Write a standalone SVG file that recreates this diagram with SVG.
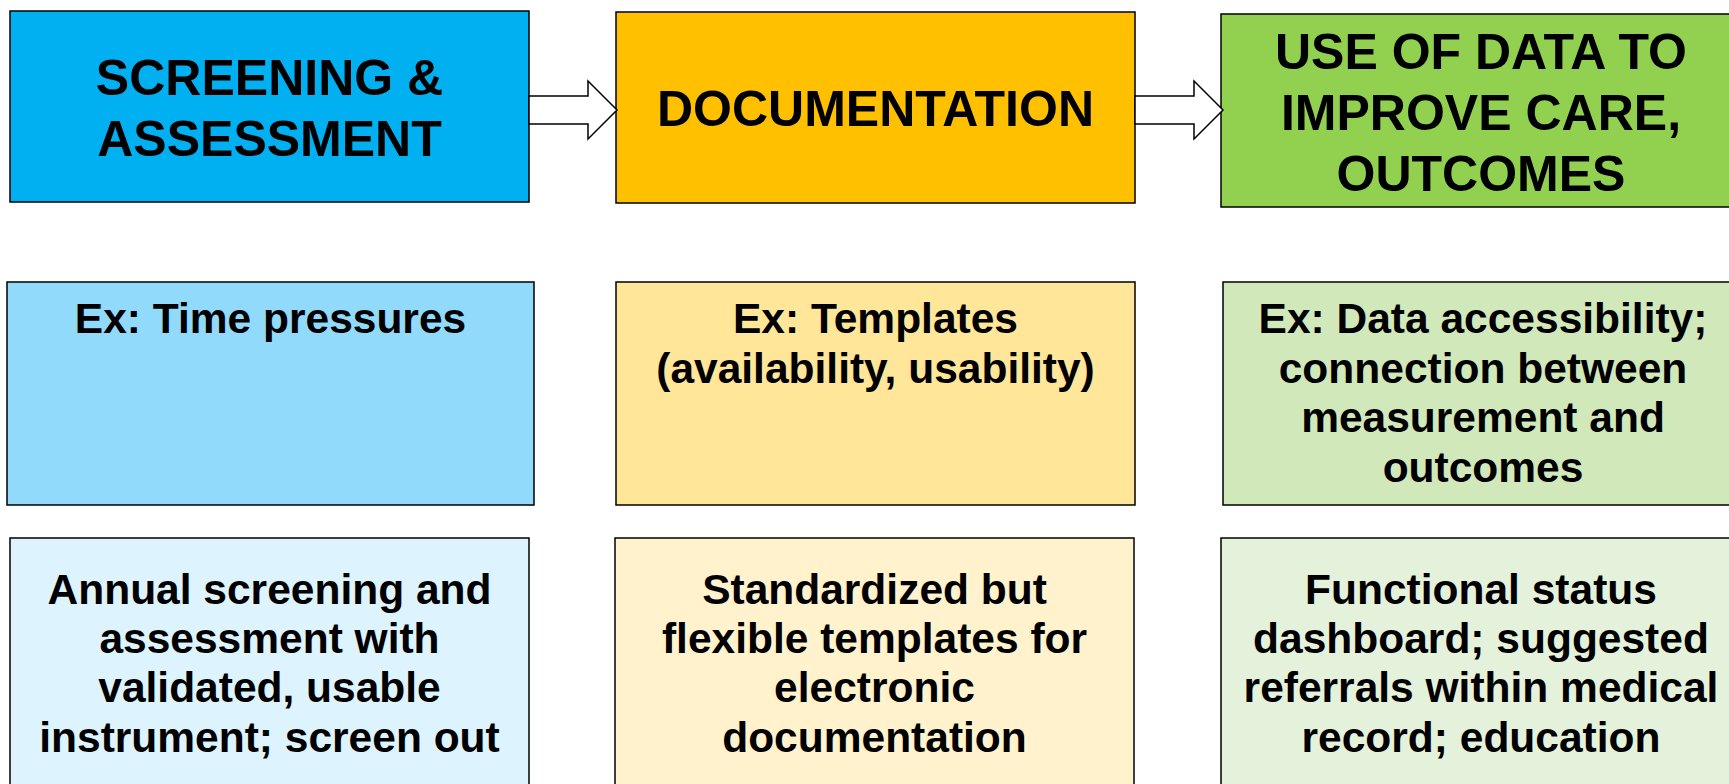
<svg xmlns="http://www.w3.org/2000/svg" width="1729" height="784" viewBox="0 0 1729 784">
  <style>
    .box { stroke: #000; stroke-width: 1.5; }
    .arrow { fill: #fff; stroke: #000; stroke-width: 1.5; stroke-linejoin: miter; }
    .t { font-family: "Liberation Sans", Arial, sans-serif; font-weight: bold; fill: #000; text-anchor: middle; }
    .head { font-size: 50px; }
    .body { font-size: 42.5px; }
  </style>
  <rect width="1729" height="784" fill="#fff"/>

  <!-- top row: process stages -->
  <g id="screening">
    <rect class="box" x="10" y="11" width="519" height="191" fill="#00B0F0"/>
    <text class="t head" x="269.5" y="95">SCREENING &amp;</text>
    <text class="t head" x="269.5" y="156">ASSESSMENT</text>
  </g>
  <g id="documentation">
    <rect class="box" x="616" y="12" width="519" height="191" fill="#FFC000"/>
    <text class="t head" x="875.5" y="126">DOCUMENTATION</text>
  </g>
  <g id="use-of-data">
    <rect class="box" x="1221" y="14" width="520" height="193" fill="#92D050"/>
    <text class="t head" x="1481" y="69">USE OF DATA TO</text>
    <text class="t head" x="1481" y="130">IMPROVE CARE,</text>
    <text class="t head" x="1481" y="191">OUTCOMES</text>
  </g>

  <!-- block arrows between stages -->
  <g id="connectors">
    <polygon class="arrow" points="529,96 588,96 588,81 617,110 588,139 588,124 529,124"/>
    <polygon class="arrow" points="1135,96 1194,96 1194,81 1223,110 1194,139 1194,124 1135,124"/>
  </g>

  <!-- middle row: barriers -->
  <g id="barrier-screening">
    <rect class="box" x="7" y="282" width="527" height="223" fill="#91DAFC"/>
    <text class="t body" x="270.5" y="333">Ex: Time pressures</text>
  </g>
  <g id="barrier-documentation">
    <rect class="box" x="616" y="282" width="519" height="223" fill="#FFE699"/>
    <text class="t body" x="875.5" y="333">Ex: Templates</text>
    <text class="t body" x="875.5" y="383">(availability, usability)</text>
  </g>
  <g id="barrier-data">
    <rect class="box" x="1223" y="282" width="520" height="223" fill="#D1E9BA"/>
    <text class="t body" x="1483" y="333">Ex: Data accessibility;</text>
    <text class="t body" x="1483" y="383">connection between</text>
    <text class="t body" x="1483" y="432">measurement and</text>
    <text class="t body" x="1483" y="482">outcomes</text>
  </g>

  <!-- bottom row: solutions -->
  <g id="solution-screening">
    <rect class="box" x="10" y="538" width="519" height="260" fill="#DDF3FD"/>
    <text class="t body" x="269.5" y="604">Annual screening and</text>
    <text class="t body" x="269.5" y="653">assessment with</text>
    <text class="t body" x="269.5" y="702">validated, usable</text>
    <text class="t body" x="269.5" y="752">instrument; screen out</text>
  </g>
  <g id="solution-documentation">
    <rect class="box" x="615" y="538" width="519" height="260" fill="#FFF2CD"/>
    <text class="t body" x="874.5" y="604">Standardized but</text>
    <text class="t body" x="874.5" y="653">flexible templates for</text>
    <text class="t body" x="874.5" y="702">electronic</text>
    <text class="t body" x="874.5" y="752">documentation</text>
  </g>
  <g id="solution-data">
    <rect class="box" x="1221" y="538" width="520" height="260" fill="#E5F2DB"/>
    <text class="t body" x="1481" y="604">Functional status</text>
    <text class="t body" x="1481" y="653">dashboard; suggested</text>
    <text class="t body" x="1481" y="702">referrals within medical</text>
    <text class="t body" x="1481" y="752">record; education</text>
  </g>
</svg>
